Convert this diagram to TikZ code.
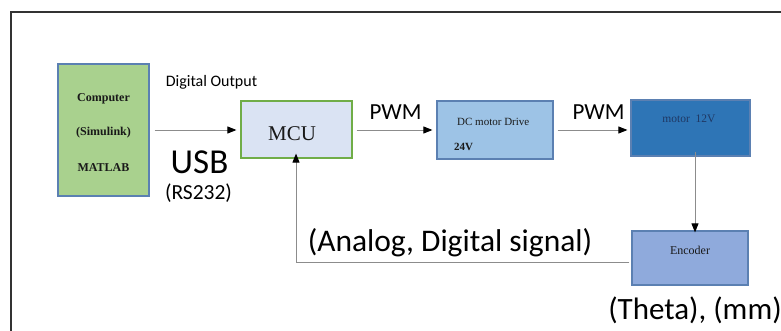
\documentclass[tikz,border=0pt]{standalone}
\usepackage{fontspec}
\setmainfont{Liberation Serif}
\newfontfamily\lab{Carlito}
\usetikzlibrary{arrows.meta}
\definecolor{cgreen}{HTML}{A9D18E}
\definecolor{cblueb}{HTML}{5B80B2}
\definecolor{mcufill}{HTML}{DAE3F3}
\definecolor{mcub}{HTML}{70AD47}
\definecolor{drvfill}{HTML}{9DC3E6}
\definecolor{motfill}{HTML}{2E75B6}
\definecolor{encfill}{HTML}{8FAADC}
\definecolor{linec}{HTML}{8C8C8C}
\definecolor{navytxt}{HTML}{1F3864}
\begin{document}
\begin{tikzpicture}[x=1pt,y=-1pt,
  blk/.style={draw=cblueb, line width=1.2pt, inner sep=0pt},
  conn/.style={draw=linec, line width=0.9pt, -{Triangle[length=9pt,width=7pt,fill=black,color=black]}},
  lbl/.style={font=\lab, inner sep=0pt, anchor=center},
  btxt/.style={font=\fontsize{12}{14}\selectfont\bfseries, text=black!90, inner sep=0pt}]
\useasboundingbox (0,0) rectangle (781,331);
\draw[line width=1.3pt, black!80] (11,331) -- (11,12) -- (781,12);
% boxes
\node[blk, fill=cgreen, minimum width=91pt, minimum height=132pt] (comp) at (103.5,130) {};
\node[btxt] at (103.5,99) {Computer};
\node[btxt] at (103.5,133) {(Simulink)};
\node[btxt] at (103.5,168) {MATLAB};
\node[blk, draw=mcub, fill=mcufill, minimum width=111pt, minimum height=57pt] (mcu) at (296.5,129.5) {};
\node[font=\fontsize{21}{24}\selectfont, text=black!90, inner sep=0pt] at (292,134) {MCU};
\node[blk, fill=drvfill, minimum width=116pt, minimum height=58pt] (drv) at (495,130) {};
\node[btxt, font=\fontsize{11}{13}\selectfont, anchor=west] at (457,122) {DC motor Drive};
\node[btxt, font=\fontsize{11}{13}\selectfont\bfseries, anchor=west] at (454,147) {24V};
\node[blk, fill=motfill, minimum width=119pt, minimum height=56pt] (mot) at (690.5,128) {};
\node[btxt, font=\fontsize{11.5}{13}\selectfont, text=navytxt] at (689,119) {motor\ \ 12V};
\node[blk, fill=encfill, minimum width=116pt, minimum height=54pt] (enc) at (690,258) {};
\node[btxt, font=\fontsize{12}{14}\selectfont, text=black!90] at (690,250) {Encoder};
% connectors
\draw[conn] ([xshift=5pt]comp.east |- 0,130) -- ([xshift=-4pt]mcu.west |- 0,130);
\draw[conn] ([xshift=4pt]mcu.east |- 0,130) -- ([xshift=-4pt]drv.west |- 0,130);
\draw[conn] ([xshift=4pt]drv.east |- 0,130) -- ([xshift=-3pt]mot.west |- 0,130);
\draw[conn] ([yshift=5pt]mot.south -| 695,0) -- ([yshift=-2pt]enc.north -| 695,0);
\draw[conn] ([xshift=-2pt]enc.west |- 0,262) -- (296,262) -- ([yshift=5pt]mcu.south -| 296,0);
% labels
\node[lbl, font=\lab\fontsize{16}{18}\selectfont] (dout) at (211.5,82) {Digital Output};
\node[lbl, font=\lab\fontsize{35}{38}\selectfont] (usb) at (199.5,162) {USB};
\node[lbl, font=\lab\fontsize{21.5}{24}\selectfont] (rs) at (198.5,193) {(RS232)};
\node[lbl, font=\lab\fontsize{23}{26}\selectfont] (pwm1) at (395.5,112) {PWM};
\node[lbl, font=\lab\fontsize{23}{26}\selectfont] (pwm2) at (598.5,112) {PWM};
\node[lbl, font=\lab\fontsize{31.5}{34}\selectfont] (sig) at (450,243) {(Analog, Digital signal)};
\node[lbl, font=\lab\fontsize{31}{34}\selectfont] (theta) at (695,310) {(Theta), (mm)};
\end{tikzpicture}
\end{document}
